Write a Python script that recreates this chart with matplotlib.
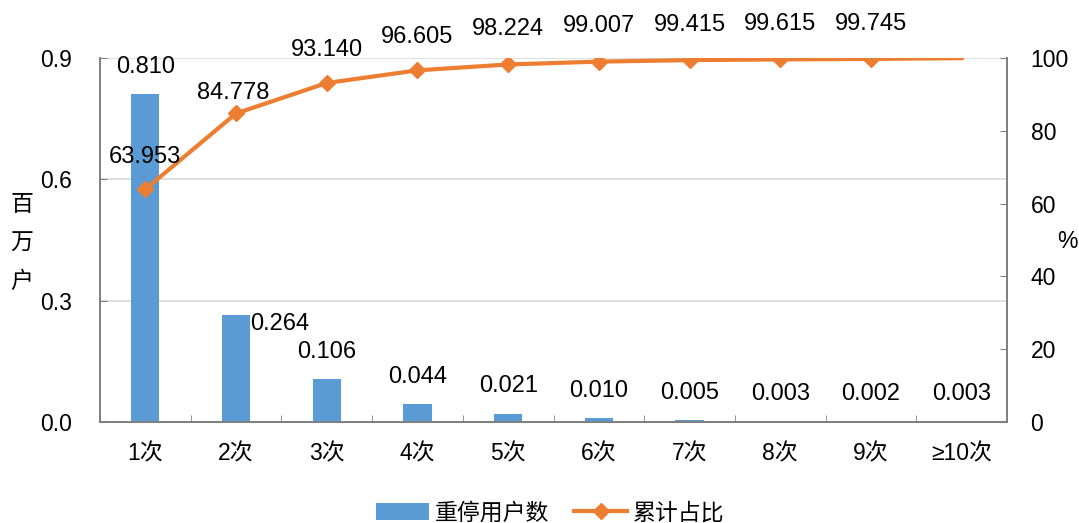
import matplotlib
matplotlib.use("Agg")
import matplotlib.pyplot as plt
import numpy as np

plt.rcParams["font.family"] = ["Liberation Sans", "Noto Sans CJK SC", "DejaVu Sans"]

categories = ["1次", "2次", "3次", "4次", "5次", "6次", "7次", "8次", "9次", "≥10次"]
users = [0.810, 0.264, 0.106, 0.044, 0.021, 0.010, 0.005, 0.003, 0.002, 0.003]
cum_pct = [63.953, 84.778, 93.140, 96.605, 98.224, 99.007, 99.415, 99.615, 99.745, 99.95]
cum_labels = ["63.953", "84.778", "93.140", "96.605", "98.224", "99.007", "99.415", "99.615", "99.745", ""]

blue = "#5b9bd5"
orange = "#ed7d31"
gray = "#808080"
fs_tick = 16.5
fs_lab = 17

fig = plt.figure(figsize=(10.79, 5.23), dpi=100)
ax = fig.add_axes([100 / 1079, 1 - 422 / 523, 907 / 1079, 364 / 523])
ax2 = ax.twinx()

x = np.arange(len(categories))
bw = 0.31
ax.bar(x, users, width=bw, color=blue, zorder=2, label="重停用户数")
ax.set_xlim(-0.5, len(categories) - 0.5)
ax.set_ylim(0, 0.9)
ax.set_yticks([0.0, 0.3, 0.6, 0.9])
ax.set_yticklabels(["0.0", "0.3", "0.6", "0.9"])
ax.yaxis.grid(True, color="#d9d9d9", linewidth=1.2, zorder=0)
ax.set_axisbelow(True)
ax.set_xticks(x)
ax.set_xticklabels(categories)
ax.set_xticks(np.arange(-0.5, len(categories), 1), minor=True)
ax.tick_params(axis="x", which="major", length=0, labelsize=fs_tick, pad=15)
ax.tick_params(axis="x", which="minor", direction="in", length=5, color=gray)
ax.tick_params(axis="y", length=5, direction="in", color=gray, labelsize=fs_tick, pad=20)

for a in (ax, ax2):
    for s in ["left", "bottom", "right"]:
        a.spines[s].set_color(gray)
        a.spines[s].set_linewidth(1.3)
    a.spines["top"].set_visible(False)

# bar labels
for i, v in enumerate(users):
    if i == 1:
        ax.annotate(f"{v:.3f}", (x[i] + bw / 2, v), xytext=(0, -6), textcoords="offset points",
                    ha="left", va="center", fontsize=fs_lab)
    else:
        ax.annotate(f"{v:.3f}", (x[i], v), xytext=(0, 19.5), textcoords="offset points",
                    ha="center", va="center", fontsize=fs_lab)

ax2.plot(x, cum_pct, color=orange, linewidth=3, marker="D", markersize=8,
         markevery=list(range(9)), zorder=3, label="累计占比")
ax2.set_ylim(0, 100)
ax2.set_yticks([0, 20, 40, 60, 80, 100])
ax2.tick_params(axis="y", length=5, direction="in", color=gray, labelsize=fs_tick, pad=17)
offsets = [23, 14.5, 24, 24, 25.5, 25.5, 25.5, 25.5, 25.5, 25.5]
for i, (v, t) in enumerate(zip(cum_pct, cum_labels)):
    if t:
        ax2.annotate(t, (x[i], v), xytext=(-2 if i == 1 else 0, offsets[i]),
                     textcoords="offset points", ha="center", va="center", fontsize=fs_lab)

fig.text(22 / 1079, 1 - 243 / 523, "百\n万\n户", ha="center", va="center", fontsize=fs_tick,
         linespacing=1.85, family=["Noto Sans CJK SC"])
fig.text(1067 / 1079, 1 - 242 / 523, "%", ha="center", va="center", fontsize=fs_tick)

h1, l1 = ax.get_legend_handles_labels()
h2, l2 = ax2.get_legend_handles_labels()
fig.legend(h1 + h2, l1 + l2, loc="center", bbox_to_anchor=(0.51, 1 - 513 / 523), ncol=2,
           frameon=False, fontsize=fs_tick, handlelength=2.3, columnspacing=1.1,
           handletextpad=0.25)

fig.savefig("out.png", dpi=100)
